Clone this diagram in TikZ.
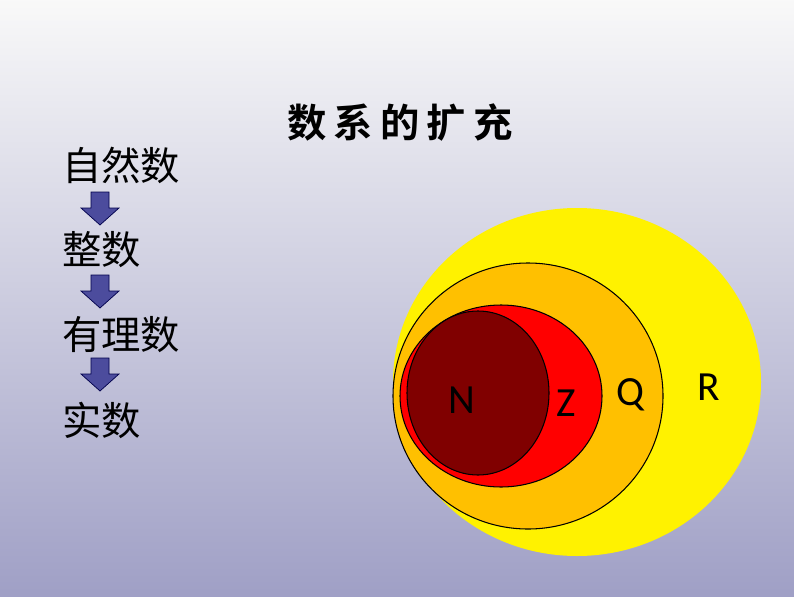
\documentclass[tikz,border=0pt]{standalone}
\usepackage{fontspec}
\newfontfamily\cjk{Noto Sans CJK SC}
\newfontfamily\cjkb{Noto Sans CJK SC Bold}
\setsansfont{Carlito}
\tikzset{
  cn/.style={font=\cjk\fontsize{112}{112}\selectfont, inner sep=0pt, anchor=west},
  lab/.style={font=\sffamily\fontsize{118}{118}\selectfont, inner sep=0pt},
  barrow/.style={fill=blue!45!black!70!white, draw=blue!30!black, line width=2pt},
  ring/.style={draw=black, line width=3pt}
}
\definecolor{dk}{RGB}{128,0,0}
\definecolor{orng}{RGB}{255,192,0}
\begin{document}
\begin{tikzpicture}[x=0.1cm,y=-0.1cm]
\shade[top color=white!95!gray, bottom color=blue!25!gray!60!white] (0,0) rectangle (794,596);
\node[font=\cjkb\fontsize{112}{112}\selectfont, inner sep=0pt] (title) at (400,123) {数\hspace{0.18em}系\hspace{0.18em}的\hspace{0.18em}扩\hspace{0.18em}充};
\node[cn] (t1) at (62,165) {自然数};
\node[cn] (t2) at (62,250) {整数};
\node[cn] (t3) at (62,335) {有理数};
\node[cn] (t4) at (62,420) {实数};
\foreach \y in {192,275,358}{
  \draw[barrow] (91,\y) -- (109,\y) -- (109,\y+16) -- (119,\y+16) -- (100,\y+33) -- (81,\y+16) -- (91,\y+16) -- cycle;
}
\fill[yellow] (577,382) ellipse [x radius=184, y radius=174];
\filldraw[fill=orng, ring] (528,396) ellipse [x radius=135, y radius=133];
\filldraw[fill=red, ring] (501,396) ellipse [x radius=101, y radius=91];
\filldraw[fill=dk, ring] (478,393) ellipse [x radius=71, y radius=82];
\node[lab] (N) at (462,400) {N};
\node[lab] (Z) at (566,403) {Z};
\node[lab] (Q) at (630,395) {Q};
\node[lab] (R) at (709,387) {R};
\end{tikzpicture}
\end{document}
